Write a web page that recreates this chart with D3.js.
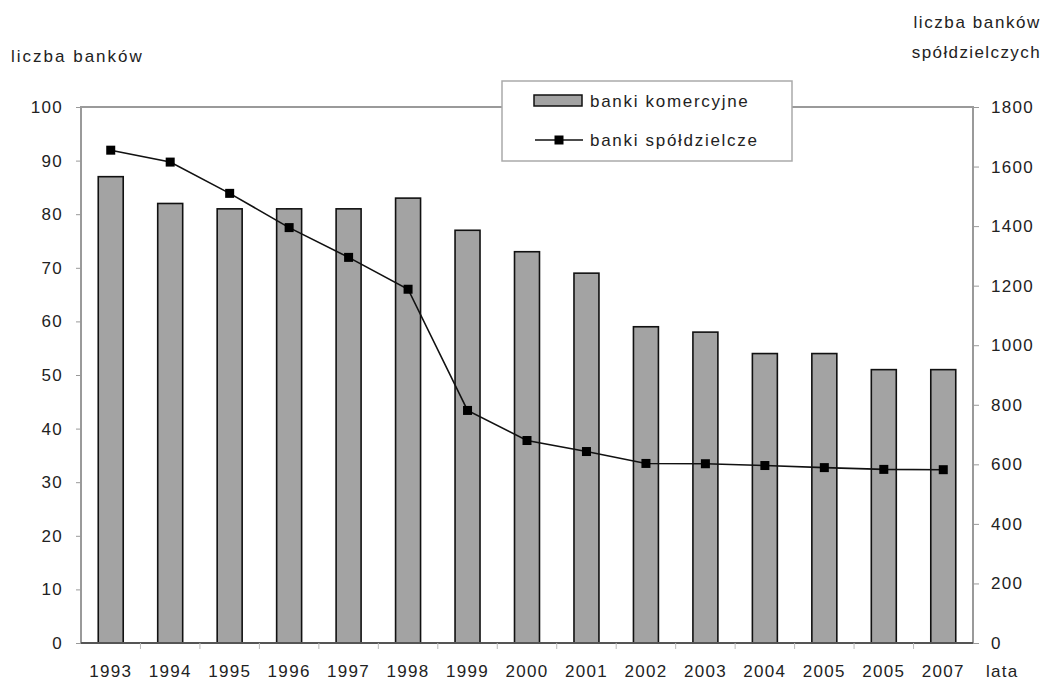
<!DOCTYPE html>
<html>
<head>
<meta charset="utf-8">
<script src="https://cdn.jsdelivr.net/npm/d3@7"></script>
<style>
  html, body { margin: 0; padding: 0; background: #fff; }
  svg { display: block; }
  text { font-family: "Liberation Sans", Arial, sans-serif; fill: #222; }
</style>
</head>
<body>
<svg id="chart" width="1043" height="680"></svg>
<script>
// Number of banks in Poland, 1993–2007
const years = ["1993","1994","1995","1996","1997","1998","1999","2000","2001","2002","2003","2004","2005","2006","2007"];
const yearLabels = ["1993","1994","1995","1996","1997","1998","1999","2000","2001","2002","2003","2004","2005","2005","2007"];
const commercialBanks = [87, 82, 81, 81, 81, 83, 77, 73, 69, 59, 58, 54, 54, 51, 51];
const cooperativeBanks = [1655, 1615, 1510, 1395, 1295, 1188, 781, 680, 643, 603, 602, 596, 589, 583, 582];
const leftTicks = [0, 10, 20, 30, 40, 50, 60, 70, 80, 90, 100];
const rightTicks = [0, 200, 400, 600, 800, 1000, 1200, 1400, 1600, 1800];
const seriesNames = ["banki komercyjne", "banki spółdzielcze"];

const svg = d3.select("#chart");
const plot = { left: 81, right: 973, top: 107, bottom: 643 };
const LS = "1.3px";

const x = d3.scaleBand().domain(years).range([plot.left, plot.right])
  .paddingInner(0.58).paddingOuter(0.29);
const yL = d3.scaleLinear().domain([0, 100]).range([plot.bottom, plot.top]);
const yR = d3.scaleLinear().domain([0, 1800]).range([plot.bottom, plot.top]);

// bars: commercial banks
svg.append("g").selectAll("rect").data(years).join("rect")
  .attr("x", d => x(d))
  .attr("y", (d, i) => yL(commercialBanks[i]))
  .attr("width", x.bandwidth())
  .attr("height", (d, i) => yL(0) - yL(commercialBanks[i]))
  .attr("fill", "#a3a3a3")
  .attr("stroke", "#111")
  .attr("stroke-width", 1.6);

// frame
svg.append("path")
  .attr("d", `M${plot.left},${plot.bottom}V${plot.top}H${plot.right}V${plot.bottom}`)
  .attr("fill", "none").attr("stroke", "#9a9a9a").attr("stroke-width", 2);
svg.append("line")
  .attr("x1", plot.left).attr("x2", plot.right)
  .attr("y1", plot.bottom).attr("y2", plot.bottom)
  .attr("stroke", "#555").attr("stroke-width", 2);

// category separators below the axis
const step = x.step();
svg.append("g").selectAll("line").data(d3.range(1, years.length)).join("line")
  .attr("x1", i => plot.left + i * step).attr("x2", i => plot.left + i * step)
  .attr("y1", plot.bottom).attr("y2", plot.bottom + 6)
  .attr("stroke", "#bbb").attr("stroke-width", 1);

// left axis
const gL = svg.append("g").attr("transform", `translate(${plot.left},0)`)
  .call(d3.axisLeft(yL).tickValues(leftTicks).tickSize(5).tickPadding(13).tickFormat(d3.format("d")));
gL.select(".domain").remove();
gL.selectAll(".tick line").attr("stroke", "#999");
gL.selectAll(".tick text").style("font-size", "17px").style("letter-spacing", LS)
  .attr("fill", "#222").attr("font-family", null);

// right axis
const gR = svg.append("g").attr("transform", `translate(${plot.right},0)`)
  .call(d3.axisRight(yR).tickValues(rightTicks).tickSize(6).tickPadding(12).tickFormat(d3.format("d")));
gR.select(".domain").remove();
gR.selectAll(".tick line").attr("stroke", "#999");
gR.selectAll(".tick text").style("font-size", "17px").style("letter-spacing", LS)
  .attr("fill", "#222").attr("font-family", null);

// bottom axis labels
const gB = svg.append("g").attr("transform", `translate(0,${plot.bottom})`)
  .call(d3.axisBottom(x).tickSize(0).tickPadding(22).tickFormat((d, i) => yearLabels[i]));
gB.select(".domain").remove();
gB.selectAll(".tick text").style("font-size", "17px").style("letter-spacing", LS)
  .attr("fill", "#222").attr("font-family", null);

// line: cooperative banks
const pts = years.map((d, i) => [x(d) + x.bandwidth() / 2, yR(cooperativeBanks[i])]);
svg.append("path")
  .attr("d", d3.line()(pts))
  .attr("fill", "none").attr("stroke", "#111").attr("stroke-width", 1.6);
svg.append("g").selectAll("rect").data(pts).join("rect")
  .attr("x", p => p[0] - 4.5).attr("y", p => p[1] - 4.5)
  .attr("width", 9).attr("height", 9).attr("fill", "#000");

// axis titles
svg.append("text").attr("x", 11).attr("y", 62)
  .style("font-size", "17px").style("letter-spacing", "2px").text("liczba banków");
svg.append("text").attr("x", 1041).attr("y", 28).attr("text-anchor", "end")
  .style("font-size", "17px").style("letter-spacing", "1.6px").text("liczba banków");
svg.append("text").attr("x", 1041).attr("y", 58).attr("text-anchor", "end")
  .style("font-size", "17px").style("letter-spacing", "1.4px").text("spółdzielczych");
svg.append("text").attr("x", 986).attr("y", 677)
  .style("font-size", "17px").style("letter-spacing", LS).text("lata");

// legend
const lg = svg.append("g");
lg.append("rect").attr("x", 502).attr("y", 81).attr("width", 290).attr("height", 80)
  .attr("fill", "#fff").attr("stroke", "#aaa").attr("stroke-width", 1.5);
lg.append("rect").attr("x", 534).attr("y", 95).attr("width", 48).attr("height", 11)
  .attr("fill", "#a3a3a3").attr("stroke", "#111").attr("stroke-width", 1.5);
lg.append("line").attr("x1", 535).attr("x2", 583).attr("y1", 140).attr("y2", 140)
  .attr("stroke", "#111").attr("stroke-width", 1.6);
lg.append("rect").attr("x", 554.5).attr("y", 135.5).attr("width", 9).attr("height", 9).attr("fill", "#000");
lg.selectAll("text.lbl").data(seriesNames).join("text").attr("class", "lbl")
  .attr("x", 590).attr("y", (d, i) => 107 + i * 39)
  .style("font-size", "17px").style("letter-spacing", "1.7px").text(d => d);
</script>
</body>
</html>
